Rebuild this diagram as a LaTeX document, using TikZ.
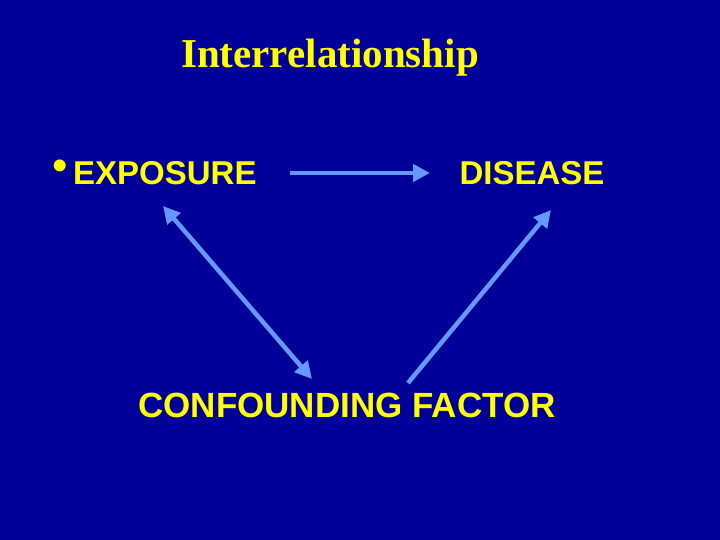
\documentclass[tikz,border=0pt]{standalone}
\usepackage{fontspec}
\setmainfont{Liberation Serif}
\newfontfamily\sansb{Liberation Sans}
\usetikzlibrary{arrows.meta}
\definecolor{bg}{RGB}{0,0,153}
\definecolor{ttl}{RGB}{255,255,0}
\definecolor{arr}{RGB}{102,153,255}
\begin{document}
\begin{tikzpicture}[x=1pt,y=-1pt,
  lbl/.style={text=ttl,font=\sansb\bfseries\fontsize{33}{38}\selectfont,inner sep=0pt},
  conn/.style={draw=arr,line width=4.5pt,-{Triangle[length=17pt,width=17pt]}}]
\fill[bg] (0,0) rectangle (720,540);
\useasboundingbox (0,0) rectangle (720,540);
\node[text=ttl,font=\bfseries\fontsize{41}{48}\selectfont,inner sep=0pt] (title) at (330,58) {Interrelationship};
\node[text=ttl,font=\sansb\fontsize{44}{44}\selectfont,inner sep=0pt] (bul) at (60,170) {•};
\node[lbl,anchor=west] (exp) at (73,173) {EXPOSURE};
\node[lbl] (dis) at (532,173) {DISEASE};
\node[lbl,font=\sansb\bfseries\fontsize{35}{40}\selectfont] (conf) at (347,405) {CONFOUNDING FACTOR};
\coordinate (h1) at (290,173);
\coordinate (h2) at (430,173);
\coordinate (d1) at (163,206);
\coordinate (d2) at (312,379);
\coordinate (e1) at (408,383);
\coordinate (e2) at (551,210);
\draw[conn] (h1) -- (h2);
\draw[conn,{Triangle[length=17pt,width=17pt]}-{Triangle[length=17pt,width=17pt]}] (d1) -- (d2);
\draw[conn] (e1) -- (e2);
\end{tikzpicture}
\end{document}
